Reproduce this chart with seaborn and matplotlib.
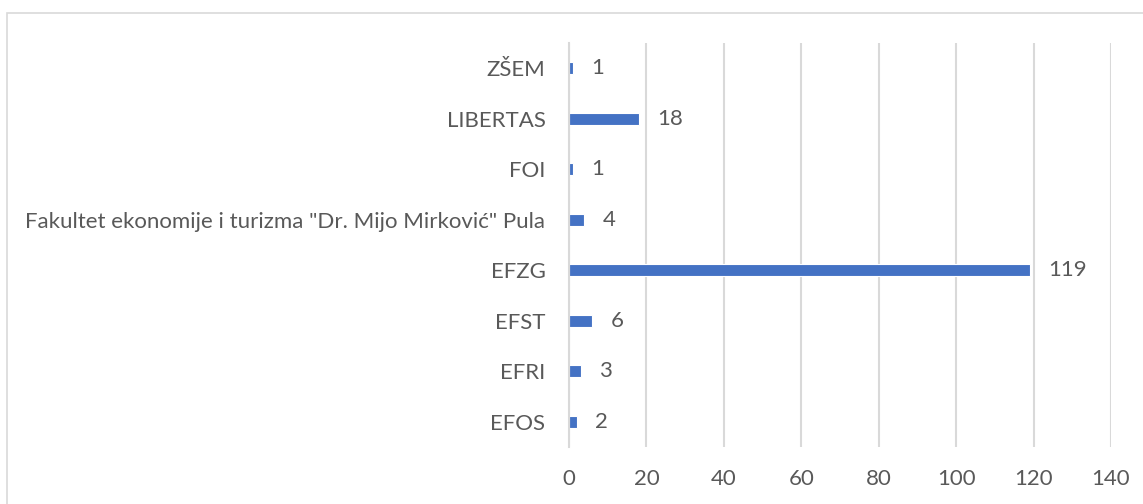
import matplotlib
matplotlib.use('Agg')
import matplotlib.pyplot as plt
import seaborn as sns
import pandas as pd
from matplotlib.patches import Rectangle

# data (top to bottom)
categories = ['ZŠEM', 'LIBERTAS', 'FOI',
              'Fakultet ekonomije i turizma "Dr. Mijo Mirković" Pula',
              'EFZG', 'EFST', 'EFRI', 'EFOS']
counts = [1, 18, 1, 4, 119, 6, 3, 2]
x_ticks = [0, 20, 40, 60, 80, 100, 120, 140]

df = pd.DataFrame({'faculty': categories, 'count': counts})

sns.set_theme(style='white')
plt.rcParams['font.family'] = ['Lato', 'DejaVu Sans']

text_col = '#595959'
grid_col = '#D9D9D9'
bar_col = '#4472C4'
fs = 16

fig = plt.figure(figsize=(11.43, 5.04), dpi=100)
ax = fig.add_axes([569 / 1143, 1 - 447 / 504, (1111 - 569) / 1143, (447 - 43) / 504])

sns.barplot(data=df, x='count', y='faculty', order=categories, color=bar_col,
            width=0.24, saturation=1, edgecolor='white', linewidth=0.8, ax=ax)

ax.set_xlim(0, 140)
ax.set_xticks(x_ticks)
ax.set_xticklabels([str(t) for t in x_ticks])
ax.xaxis.grid(True, color=grid_col, linewidth=1.5)
ax.set_axisbelow(True)
for s in ax.spines.values():
    s.set_visible(False)
ax.spines['left'].set_visible(True)
ax.spines['left'].set_color(grid_col)
ax.spines['left'].set_linewidth(1.5)
ax.set_xlabel('')
ax.set_ylabel('')
ax.tick_params(axis='both', length=0, labelsize=fs, colors=text_col)
ax.tick_params(axis='y', pad=17)
ax.tick_params(axis='x', pad=16)

for i, v in enumerate(counts):
    ax.annotate(str(v), (v, i), xytext=(13, 0), textcoords='offset points',
                va='center', ha='left', fontsize=fs, color=text_col)

# outer chart border like the Excel chart area
fig.patches.append(Rectangle((7 / 1143, -0.05), 1.2, 1 - 13 / 504 + 0.05,
                             transform=fig.transFigure, fill=False,
                             edgecolor=grid_col, linewidth=1.2))

fig.savefig('out.png', dpi=100)
